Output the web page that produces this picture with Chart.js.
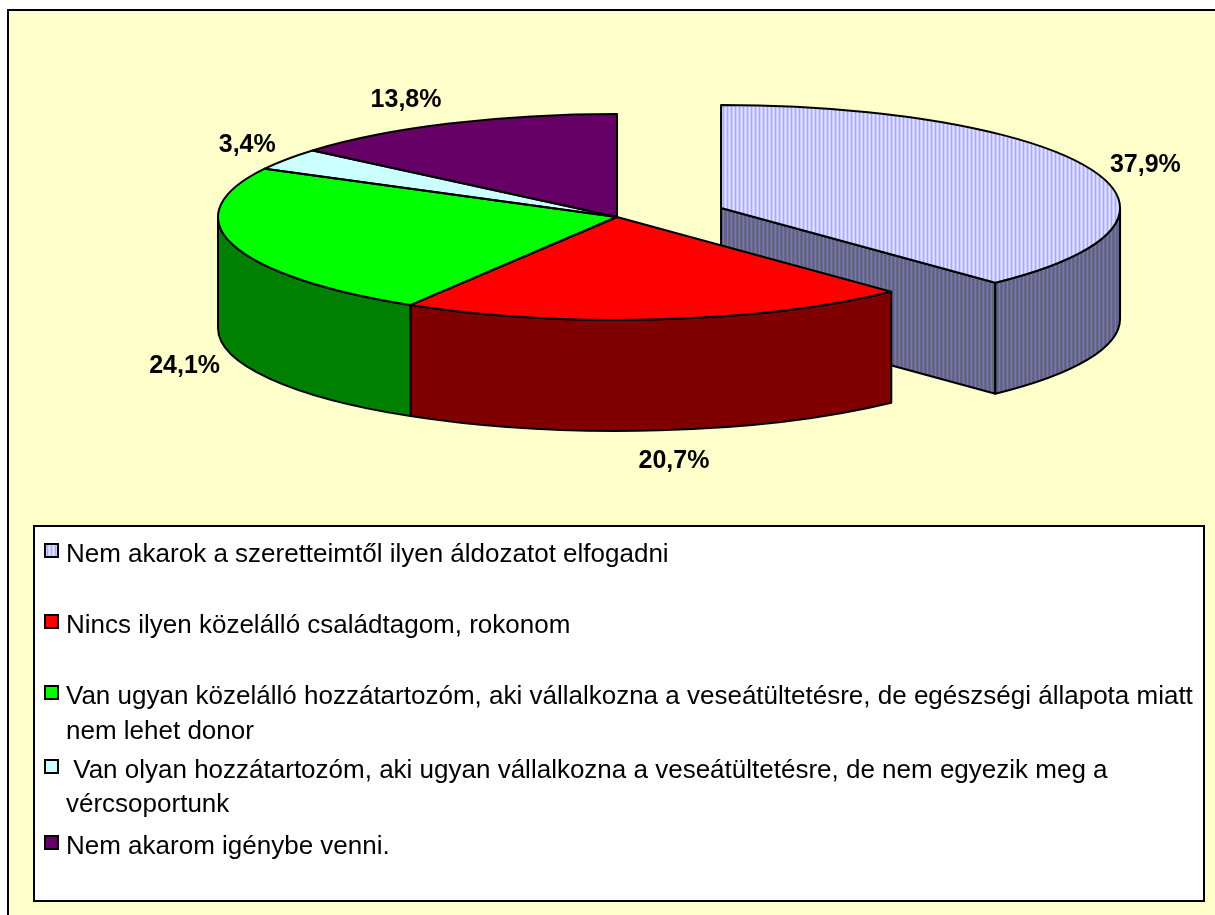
<!DOCTYPE html>
<html><head><meta charset="utf-8">
<style>html,body{margin:0;padding:0;background:#fff}canvas{display:block}</style>
<script src="https://cdn.jsdelivr.net/npm/chart.js@4"></script>
</head><body><canvas id="c" width="1215" height="915"></canvas>
<script>
const categories = [
  ["Nem akarok a szeretteimtől ilyen áldozatot elfogadni"],
  ["Nincs ilyen közelálló családtagom, rokonom"],
  ["Van ugyan közelálló hozzátartozóm, aki vállalkozna a veseátültetésre, de egészségi állapota miatt", "nem lehet donor"],
  [" Van olyan hozzátartozóm, aki ugyan vállalkozna a veseátültetésre, de nem egyezik meg a", "vércsoportunk"],
  ["Nem akarom igénybe venni."]
];
const values = [37.9, 20.7, 24.1, 3.4, 13.8];
const explodeBy = [112, 0, 0, 0, 0];
const faceColors = ["#ccccff", "#ff0000", "#00ff00", "#ccffff", "#660066"];
const sideColors = ["#666699", "#800000", "#008000", "#669999", "#330033"];
const labelNudge = [[-2,1],[8,16],[10,8],[10,-5],[-18,-9]];
const legendBaselines = [[562],[633],[704,739],[778,812],[854]];
const FONT = '"Liberation Sans", Arial, sans-serif';
const K = 0.258, DEPTH = 111, EXPLODE_Y = 0.85;

function stripes(cols){
  const t=document.createElement('canvas');t.width=cols.length;t.height=1;
  const g=t.getContext('2d');
  cols.forEach((c,i)=>{g.fillStyle=c;g.fillRect(i,0,1,1);});
  return document.getElementById('c').getContext('2d').createPattern(t,'repeat');
}
const facePattern = stripes(['#ccccff','#e2e2ff','#ccccff','#aaaaff']);
const sidePattern = stripes(['#666680','#5f5f99','#666699','#7c7c8c']);
const faceFill = faceColors.map((c,i)=>i===0?facePattern:c);
const sideFill = sideColors.map((c,i)=>i===0?sidePattern:c);

const pie3d = {
  id:'pie3d',
  beforeDraw(chart){
    const {ctx}=chart;
    ctx.save();
    ctx.fillStyle='#ffffcc';ctx.fillRect(8,10,1215,905);
    ctx.strokeStyle='#000';ctx.lineWidth=2;
    ctx.beginPath();ctx.moveTo(8,915);ctx.lineTo(8,10);ctx.lineTo(1215,10);ctx.stroke();
    ctx.restore();
  },
  afterDatasetsUpdate(chart){
    chart.getDatasetMeta(0).data.forEach((el,i)=>{
      const m=(el.startAngle+el.endAngle)/2;
      el.x+=Math.cos(m)*explodeBy[i];
      el.y+=Math.sin(m)*explodeBy[i]*EXPLODE_Y;
    });
  },
  beforeDatasetsDraw(chart){
    const {ctx,chartArea:a}=chart;
    const cy=(a.top+a.bottom)/2;
    const py=y=>cy+(y-cy)*K;
    ctx.save();
    ctx.strokeStyle='#000';ctx.lineWidth=2;ctx.lineJoin='round';
    chart.getDatasetMeta(0).data.forEach((el,i)=>{
      const R=el.outerRadius, x=el.x, y=py(el.y);
      if(explodeBy[i]>0 && Math.sin(el.endAngle)>0){
        const ex=x+Math.cos(el.endAngle)*R, ey=y+Math.sin(el.endAngle)*R*K;
        ctx.beginPath();ctx.moveTo(x,y);ctx.lineTo(ex,ey);ctx.lineTo(ex,ey+DEPTH);ctx.lineTo(x,y+DEPTH);ctx.closePath();
        ctx.fillStyle=sideFill[i];ctx.fill();ctx.stroke();
      }
      const a0=Math.max(el.startAngle,0), a1=Math.min(el.endAngle,Math.PI);
      if(a1>a0){
        ctx.beginPath();
        ctx.ellipse(x,y,R,R*K,0,a0,a1);
        ctx.ellipse(x,y+DEPTH,R,R*K,0,a1,a0,true);
        ctx.closePath();
        ctx.fillStyle=sideFill[i];ctx.fill();ctx.stroke();
      }
    });
    ctx.restore();
  },
  beforeDatasetDraw(chart){
    const {ctx,chartArea:a}=chart;
    const cy=(a.top+a.bottom)/2;
    ctx.save();ctx.translate(0,cy);ctx.scale(1,K);ctx.translate(0,-cy);
  },
  afterDatasetDraw(chart){
    const {ctx,chartArea:a}=chart;
    ctx.restore();
    const cy=(a.top+a.bottom)/2;
    const py=y=>cy+(y-cy)*K;
    ctx.save();
    ctx.strokeStyle='#000';ctx.lineWidth=2;ctx.lineJoin='round';
    chart.getDatasetMeta(0).data.forEach(el=>{
      const x=el.x,y=py(el.y),R=el.outerRadius;
      ctx.beginPath();ctx.moveTo(x,y);
      ctx.ellipse(x,y,R,R*K,0,el.startAngle,el.endAngle);
      ctx.closePath();ctx.stroke();
    });
    ctx.restore();
  },
  afterDraw(chart){
    const {ctx,chartArea:a}=chart;
    const cy=(a.top+a.bottom)/2;
    const py=y=>cy+(y-cy)*K;
    ctx.save();
    ctx.fillStyle='#000';ctx.textAlign='center';ctx.textBaseline='middle';
    ctx.font='bold 25px '+FONT;
    chart.getDatasetMeta(0).data.forEach((el,i)=>{
      const m=(el.startAngle+el.endAngle)/2,R=el.outerRadius*1.15;
      const lx=el.x+Math.cos(m)*R+labelNudge[i][0];
      const ly=py(el.y)+Math.sin(m)*R*K+(Math.sin(m)>0?DEPTH-1:0)+labelNudge[i][1];
      ctx.fillText(values[i].toFixed(1).replace('.',',')+'%',lx,ly);
    });
    ctx.fillStyle='#fff';ctx.strokeStyle='#000';ctx.lineWidth=2;
    ctx.fillRect(34,526,1170,375);ctx.strokeRect(34,526,1170,375);
    ctx.textAlign='left';ctx.textBaseline='alphabetic';
    ctx.font='26px '+FONT;
    categories.forEach((lines,i)=>{
      const b=legendBaselines[i];
      ctx.fillStyle=faceFill[i];ctx.lineWidth=2;
      ctx.fillRect(45,b[0]-18,13,13);ctx.strokeRect(45,b[0]-18,13,13);
      ctx.fillStyle='#000';
      lines.forEach((t,j)=>ctx.fillText(t,66,b[j]));
    });
    ctx.restore();
  }
};

new Chart(document.getElementById('c').getContext('2d'),{
  type:'pie',
  data:{labels:categories,datasets:[{data:values,backgroundColor:faceFill,borderWidth:0,clip:false}]},
  options:{
    responsive:false,animation:false,radius:399,
    events:[],
    layout:{padding:{left:19,right:0,top:0,bottom:481}},
    plugins:{legend:{display:false},tooltip:{enabled:false}}
  },
  plugins:[pie3d]
});
</script></body></html>
